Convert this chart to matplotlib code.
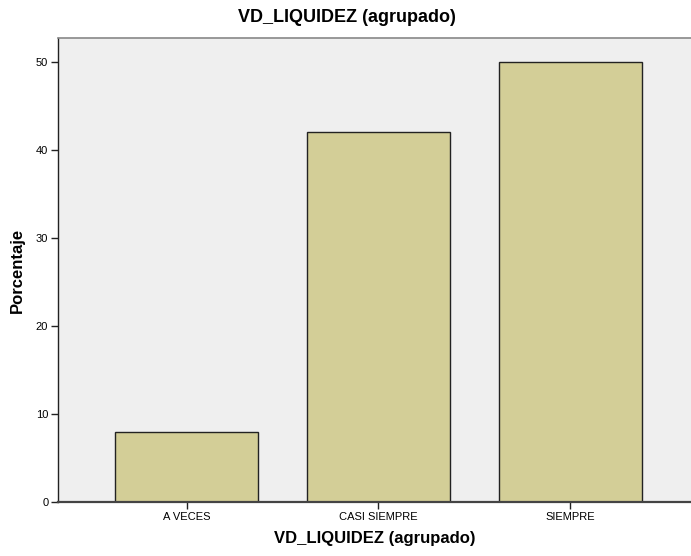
import matplotlib.pyplot as plt

categorias = ["A VECES", "CASI SIEMPRE", "SIEMPRE"]
porcentajes = [8, 42, 50]
yticks = [0, 10, 20, 30, 40, 50]

plt.rcParams["font.family"] = ["Liberation Sans", "DejaVu Sans"]

fig = plt.figure(figsize=(6.91, 5.56), dpi=100)
ax = fig.add_axes([58 / 691, 54 / 556, 1 - 58 / 691, 464 / 556])
ax.set_facecolor("#EFEFEF")

pos = range(len(categorias))
ax.bar(pos, porcentajes, width=0.746, color="#D3CE97", edgecolor="#222222", linewidth=1.0, zorder=2)

ax.set_xlim(-0.671, 2.631)
ax.set_ylim(0, 52.73)
ax.set_xticks(list(pos))
ax.set_xticklabels(categorias, fontsize=8)
ax.set_yticks(yticks)
ax.set_yticklabels([str(t) for t in yticks], fontsize=8)
ax.tick_params(axis="both", length=5, width=1, color="#222222", pad=2)

ax.spines["right"].set_visible(False)
ax.spines["top"].set_color("#888888")
ax.spines["top"].set_linewidth(1.2)
ax.spines["left"].set_color("#222222")
ax.spines["bottom"].set_color("#444444")
ax.spines["left"].set_linewidth(1.0)
ax.spines["bottom"].set_linewidth(1.6)

ax.set_xlabel("VD_LIQUIDEZ (agrupado)", fontsize=12, fontweight="bold", labelpad=7)
ax.set_ylabel("Porcentaje", fontsize=12, fontweight="bold", labelpad=8)
fig.text(347 / 691, 1 - 18 / 556, "VD_LIQUIDEZ (agrupado)", fontsize=13, fontweight="bold",
         ha="center", va="center")

fig.savefig("out.png", dpi=100)
